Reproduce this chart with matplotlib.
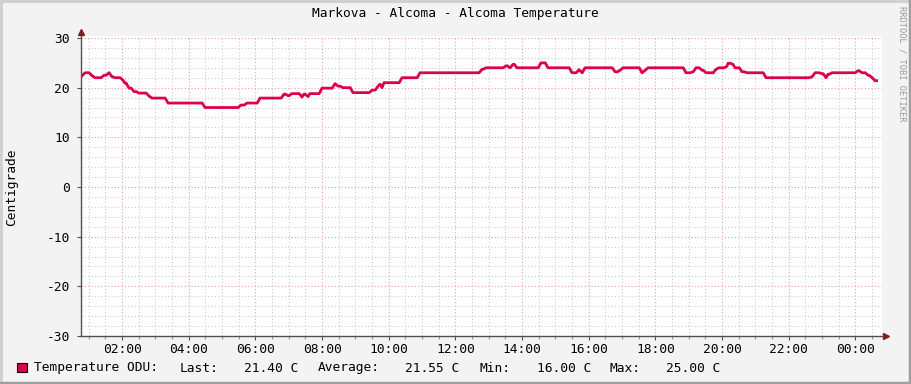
import matplotlib
matplotlib.use("Agg")
import matplotlib.pyplot as plt
from matplotlib.lines import Line2D
from matplotlib.patches import Rectangle
import numpy as np

# hours since midnight (start of the graph ~00:46), value holds until next time
hours = [0.74, 0.83, 0.89, 1.10, 1.19, 1.46, 1.61, 1.70, 1.79, 2.03, 2.09, 2.21,
         2.36, 2.51, 2.81, 2.90, 3.38, 4.49, 5.57, 5.75, 6.14, 6.86, 6.98, 7.10,
         7.40, 7.46, 7.58, 7.64, 8.00, 8.39, 8.48, 8.63, 8.93, 9.50, 9.68, 9.74,
         9.80, 9.86, 10.40, 10.94, 12.80, 12.92, 13.52, 13.64, 13.73, 13.85, 14.57,
         14.78, 15.50, 15.71, 15.80, 15.89, 16.79, 16.94, 17.03, 17.60, 17.69, 17.78,
         18.92, 19.13, 19.22, 19.40, 19.52, 19.82, 19.91, 20.15, 20.18, 20.33, 20.39,
         20.60, 20.75, 21.32, 22.70, 22.79, 23.00, 23.12, 23.18, 23.30, 24.08, 24.20,
         24.38, 24.50, 24.59, 24.68]
temps = [22.0, 22.6, 23.0, 22.4, 22.0, 22.5, 23.0, 22.2, 22.0, 21.5, 20.9, 19.9,
         19.2, 18.9, 18.3, 17.9, 16.9, 16.0, 16.5, 16.9, 17.9, 18.7, 18.4, 18.8,
         18.1, 18.7, 18.2, 18.8, 19.9, 20.8, 20.3, 20.0, 19.0, 19.5, 20.3, 20.7,
         20.0, 21.0, 22.0, 23.0, 23.7, 24.0, 24.4, 24.0, 24.7, 24.0, 25.0,
         24.0, 23.0, 23.6, 23.0, 24.0, 23.2, 23.5, 24.0, 23.0, 23.5, 24.0,
         23.0, 23.2, 24.0, 23.5, 23.0, 23.7, 24.0, 24.3, 24.9, 24.7, 24.0,
         23.2, 23.0, 22.0, 22.2, 23.0, 22.8, 22.0, 22.7, 23.0, 23.4, 23.0,
         22.5, 22.0, 21.4, 21.4]

tick_hours = [2, 4, 6, 8, 10, 12, 14, 16, 18, 20, 22, 24]
tick_labels = ["%02d:00" % (h % 24) for h in tick_hours]
y_ticks = [-30, -20, -10, 0, 10, 20, 30]

legend_name = "Temperature ODU:"
stats = [("Last:", "21.40 C"), ("Average:", "21.55 C"),
         ("Min:", "16.00 C"), ("Max:", "25.00 C")]

W, H = 911, 384
line_color = "#DC0050"
mono = "DejaVu Sans Mono"
fs = 9.3

fig = plt.figure(figsize=(W / 100, H / 100), dpi=100, facecolor="#F3F3F3")

# frame of the image
fig.add_artist(Line2D([0, 1], [1 - 1 / H, 1 - 1 / H], color="#CFCFCF", lw=2))
fig.add_artist(Line2D([1 / W, 1 / W], [0, 1], color="#CFCFCF", lw=2))
fig.add_artist(Line2D([0, 1], [1.5 / H, 1.5 / H], color="#9E9E9E", lw=2.5))
fig.add_artist(Line2D([1 - 1.5 / W, 1 - 1.5 / W], [0, 1], color="#9E9E9E", lw=2.5))

ax = fig.add_axes([81 / W, (H - 336) / H, 801 / W, 300 / H])
ax.set_facecolor("white")
ax.set_xlim(0.77, 24.80)
ax.set_ylim(-30, 30.4)

# grid
for h in np.arange(1.0, 25.0, 0.5):
    major = (h % 2 == 0)
    ax.axvline(h, color="#F2A0A0" if major else "#CDCDCD", lw=0.8,
               linestyle=(0, (1, 2)), zorder=1)
for v in range(-28, 31, 2):
    major = (v % 10 == 0)
    ax.axhline(v, color="#F2A0A0" if major else "#CDCDCD", lw=0.8,
               linestyle=(0, (1, 2)), zorder=1)

# rrd style line: hold each value, then a short ramp (one 5 min step) to the next
ramp = 5 / 60
xs, ys = [], []
for i in range(len(hours)):
    xs.append(hours[i])
    ys.append(temps[i])
    if i + 1 < len(hours):
        xs.append(max(hours[i], hours[i + 1] - ramp))
        ys.append(temps[i])
ax.plot(xs, ys, color=line_color, lw=2.0, solid_joinstyle="round",
        solid_capstyle="butt", zorder=3)

for s in ax.spines.values():
    s.set_visible(False)

# axes with arrows
ax.plot([0, 0], [0, 1.013], transform=ax.transAxes, color="#505050", lw=1,
        clip_on=False, zorder=4)
ax.plot([0, 1.005], [0, 0], transform=ax.transAxes, color="#505050", lw=1,
        clip_on=False, zorder=4)
ax.plot([0], [1.013], transform=ax.transAxes, marker="^", ms=5, color="#7F1F1F",
        clip_on=False, zorder=5)
ax.plot([1.005], [0], transform=ax.transAxes, marker=">", ms=5, color="#7F1F1F",
        clip_on=False, zorder=5)

ax.set_xticks(tick_hours)
ax.set_xticklabels(tick_labels, fontfamily=mono, fontsize=fs)
ax.set_xticks(np.arange(1.0, 25.0, 0.5), minor=True)
ax.set_yticks(y_ticks)
ax.set_yticklabels([str(v) for v in y_ticks], fontfamily=mono, fontsize=fs)
ax.tick_params(axis="x", length=3, width=0.8, color="#505050", pad=2)
ax.tick_params(axis="x", which="minor", length=2, width=0.8, color="#909090")
ax.tick_params(axis="y", length=3, width=0.8, color="#505050", pad=5)

fig.text(455 / W, 1 - 14 / H, "Markova - Alcoma - Alcoma Temperature",
         ha="center", va="center", fontfamily=mono, fontsize=fs)
fig.text(12 / W, 1 - 187 / H, "Centigrade", ha="center", va="center",
         rotation=90, fontfamily=mono, fontsize=fs)
fig.text(902 / W, 1 - 6 / H, "RRDTOOL / TOBI OETIKER", ha="center", va="top",
         rotation=270, fontfamily=mono, fontsize=6.2, color="#9A9A9A")

# legend line
fig.add_artist(Rectangle((17 / W, 1 - 372 / H), 10 / W, 9 / H,
                         facecolor=line_color, edgecolor="black", lw=0.8))
ly = 1 - 368 / H
fig.text(34 / W, ly, legend_name, ha="left", va="center", fontfamily=mono, fontsize=fs)
label_x = [180, 318, 480, 610]
value_x = [244, 405, 537, 666]
for (lab, val), lx, vx in zip(stats, label_x, value_x):
    fig.text(lx / W, ly, lab, ha="left", va="center", fontfamily=mono, fontsize=fs)
    fig.text(vx / W, ly, val, ha="left", va="center", fontfamily=mono, fontsize=fs)

fig.savefig("out.png", dpi=100, facecolor=fig.get_facecolor())
